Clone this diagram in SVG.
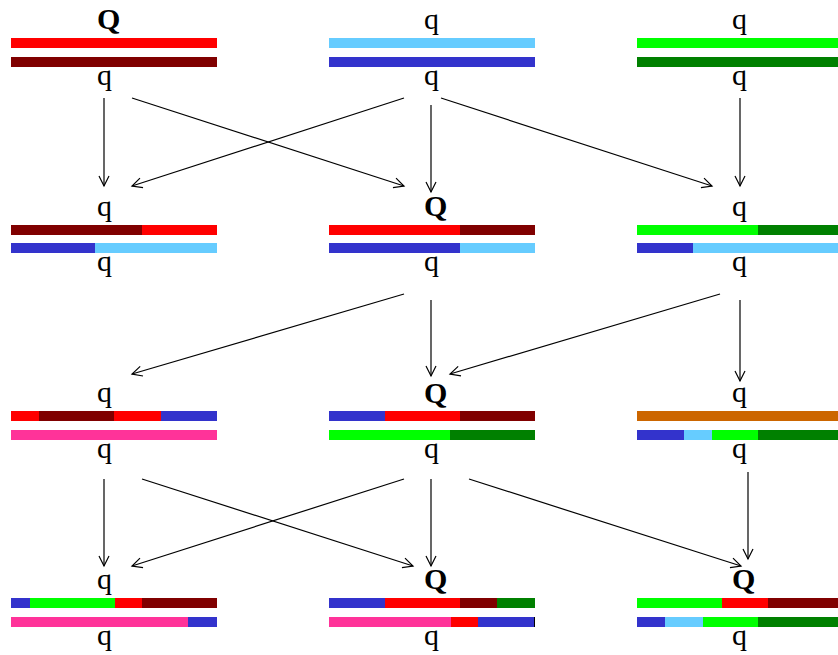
<svg xmlns="http://www.w3.org/2000/svg" width="838" height="655" viewBox="0 0 838 655">
<style>
text{font-family:"Liberation Serif","Times New Roman",serif;font-size:30px;fill:#000}
.b{font-weight:bold}
.r{fill:#ff0000}.dr{fill:#800000}.lb{fill:#66ccff}.bl{fill:#3333cc}
.g{fill:#00ff00}.dg{fill:#008000}.pk{fill:#ff3399}.or{fill:#cc6600}.k{fill:#000}
.c line{stroke:#000;stroke-width:1.2;fill:none;marker-end:url(#ah)}
</style>
<defs>
<marker id="ah" markerUnits="userSpaceOnUse" markerWidth="14" markerHeight="14" refX="11" refY="6" orient="auto">
<path d="M1,1 L11,6 L1,11" fill="none" stroke="#000" stroke-width="1.2"/>
</marker>
</defs>
<rect width="838" height="655" fill="#fff"/>

<g id="n11">
<rect class="r" x="11" y="38" width="206" height="10"/>
<rect class="dr" x="11" y="57" width="206" height="10"/>
<text class="b" x="97" y="29">Q</text>
<text x="97" y="85">q</text>
</g>
<g id="n12">
<rect class="lb" x="329" y="38" width="206" height="10"/>
<rect class="bl" x="329" y="57" width="206" height="10"/>
<text x="424" y="29">q</text>
<text x="424" y="85">q</text>
</g>
<g id="n13">
<rect class="g" x="637" y="38" width="206" height="10"/>
<rect class="dg" x="637" y="57" width="206" height="10"/>
<text x="732" y="29">q</text>
<text x="732" y="85">q</text>
</g>

<g id="n21">
<rect class="dr" x="11" y="225" width="131" height="10"/>
<rect class="r" x="142" y="225" width="75" height="10"/>
<rect class="bl" x="11" y="243" width="84" height="10"/>
<rect class="lb" x="95" y="243" width="122" height="10"/>
<text x="97" y="216">q</text>
<text x="97" y="271">q</text>
</g>
<g id="n22">
<rect class="r" x="329" y="225" width="131" height="10"/>
<rect class="dr" x="460" y="225" width="75" height="10"/>
<rect class="bl" x="329" y="243" width="131" height="10"/>
<rect class="lb" x="460" y="243" width="75" height="10"/>
<text class="b" x="424" y="216">Q</text>
<text x="424" y="271">q</text>
</g>
<g id="n23">
<rect class="g" x="637" y="225" width="121" height="10"/>
<rect class="dg" x="758" y="225" width="85" height="10"/>
<rect class="bl" x="637" y="243" width="56" height="10"/>
<rect class="lb" x="693" y="243" width="150" height="10"/>
<text x="732" y="216">q</text>
<text x="732" y="271">q</text>
</g>

<g id="n31">
<rect class="r" x="11" y="411" width="28" height="10"/>
<rect class="dr" x="39" y="411" width="75" height="10"/>
<rect class="r" x="114" y="411" width="47" height="10"/>
<rect class="bl" x="161" y="411" width="56" height="10"/>
<rect class="pk" x="11" y="430" width="206" height="10"/>
<text x="97" y="402">q</text>
<text x="97" y="458">q</text>
</g>
<g id="n32">
<rect class="bl" x="329" y="411" width="56" height="10"/>
<rect class="r" x="385" y="411" width="75" height="10"/>
<rect class="dr" x="460" y="411" width="75" height="10"/>
<rect class="g" x="329" y="430" width="121" height="10"/>
<rect class="dg" x="450" y="430" width="85" height="10"/>
<text class="b" x="424" y="403">Q</text>
<text x="424" y="458">q</text>
</g>
<g id="n33">
<rect class="or" x="637" y="411" width="206" height="10"/>
<rect class="bl" x="637" y="430" width="47" height="10"/>
<rect class="lb" x="684" y="430" width="28" height="10"/>
<rect class="g" x="712" y="430" width="46" height="10"/>
<rect class="dg" x="758" y="430" width="85" height="10"/>
<text x="732" y="402">q</text>
<text x="732" y="458">q</text>
</g>

<g id="n41">
<rect class="bl" x="11" y="598" width="19" height="10"/>
<rect class="g" x="30" y="598" width="85" height="10"/>
<rect class="r" x="115" y="598" width="27" height="10"/>
<rect class="dr" x="142" y="598" width="75" height="10"/>
<rect class="pk" x="11" y="617" width="177" height="10"/>
<rect class="bl" x="188" y="617" width="29" height="10"/>
<text x="97" y="589">q</text>
<text x="97" y="645">q</text>
</g>
<g id="n42">
<rect class="bl" x="329" y="598" width="56" height="10"/>
<rect class="r" x="385" y="598" width="75" height="10"/>
<rect class="dr" x="460" y="598" width="37" height="10"/>
<rect class="dg" x="497" y="598" width="38" height="10"/>
<rect class="pk" x="329" y="617" width="122" height="10"/>
<rect class="r" x="451" y="617" width="27" height="10"/>
<rect class="bl" x="478" y="617" width="56" height="10"/>
<rect class="k" x="534" y="617" width="1" height="10"/>
<text class="b" x="424" y="589">Q</text>
<text x="424" y="645">q</text>
</g>
<g id="n43">
<rect class="g" x="637" y="598" width="85" height="10"/>
<rect class="r" x="722" y="598" width="46" height="10"/>
<rect class="dr" x="768" y="598" width="75" height="10"/>
<rect class="bl" x="637" y="617" width="28" height="10"/>
<rect class="lb" x="665" y="617" width="38" height="10"/>
<rect class="g" x="703" y="617" width="55" height="10"/>
<rect class="dg" x="758" y="617" width="85" height="10"/>
<text class="b" x="732" y="589">Q</text>
<text x="732" y="645">q</text>
</g>

<g id="connectors" class="c">
<line x1="104" y1="98" x2="104" y2="186"/>
<line x1="132" y1="98" x2="404" y2="186"/>
<line x1="404" y1="98" x2="132" y2="186"/>
<line x1="431" y1="105" x2="431" y2="192"/>
<line x1="441" y1="98" x2="712" y2="186"/>
<line x1="740" y1="98" x2="740" y2="186"/>

<line x1="404" y1="294" x2="132" y2="374"/>
<line x1="431" y1="300" x2="431" y2="376"/>
<line x1="720" y1="294" x2="450" y2="374"/>
<line x1="740" y1="300" x2="740" y2="381"/>

<line x1="104" y1="479" x2="104" y2="566"/>
<line x1="142" y1="479" x2="413" y2="566"/>
<line x1="404" y1="479" x2="132" y2="566"/>
<line x1="431" y1="479" x2="431" y2="566"/>
<line x1="469" y1="479" x2="741" y2="566"/>
<line x1="748" y1="472" x2="748" y2="559"/>
</g>
</svg>
